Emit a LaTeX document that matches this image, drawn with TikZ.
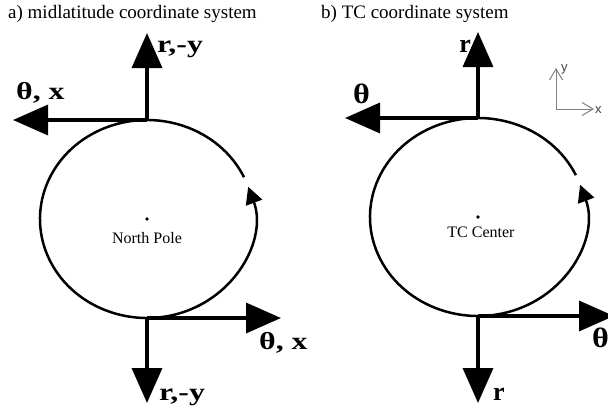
\documentclass[tikz,border=0pt]{standalone}
\usepackage{fontspec}
\setmainfont{Liberation Serif}
\setsansfont{Liberation Sans}
\newfontfamily\lblfont[FakeStretch=1.3]{Liberation Serif}
\newfontfamily\thfont[FakeStretch=1.15]{Liberation Serif}
\usetikzlibrary{arrows.meta,calc}
\tikzset{
  bigarrow/.style={line width=3.5pt,-{Triangle[length=35pt,width=30pt]}},
  orbit/.style={line width=2.5pt,-{Triangle[length=17pt,width=17pt]}},
  biglabel/.style={inner sep=0pt,font=\lblfont\fontsize{24.5}{24.5}\selectfont\bfseries},
  rlabel/.style={inner sep=0pt,font=\fontsize{26}{26}\selectfont\bfseries},
  thlabel/.style={inner sep=0pt,font=\thfont\fontsize{28}{28}\selectfont\bfseries},
  title/.style={inner sep=0pt,font=\fontsize{19}{19}\selectfont},
  small/.style={inner sep=0pt,font=\fontsize{16}{16}\selectfont},
  axis/.style={draw=black!50,line width=1pt,-{Straight Barb[length=11pt,width=13pt]}},
  axlabel/.style={inner sep=0pt,text=black!75,font=\sffamily\fontsize{13}{13}\selectfont},
}
\begin{document}
\begin{tikzpicture}[x=1pt,y=-1pt]
\useasboundingbox (0,0) rectangle (608,413);
% ---------- panel a ----------
\node[title,anchor=base west] (ta) at (8,18) {a) midlatitude coordinate system};
\coordinate (ca) at (147,219);
\coordinate (atop) at (147,120);
\coordinate (abot) at (147,318);
\coordinate (aup) at (147,33);
\coordinate (aleft) at (13,120);
\coordinate (adown) at (147,403);
\coordinate (aright) at (281,318);
\draw[orbit] ($(ca)+(-25:107 and 99)$) arc[start angle=-25, end angle=-379, x radius=107, y radius=99];
\draw[bigarrow] (atop) -- (aup);
\draw[bigarrow] (atop) -- (aleft);
\draw[bigarrow] (abot) -- (adown);
\draw[bigarrow] (abot) -- (aright);
\fill (ca) circle (1.8);
\node[small] (np) at (147,238) {North Pole};
\node[biglabel,anchor=base west] (la1) at (16,99) {θ, x};
\node[biglabel,anchor=base west] (la2) at (157,52) {r,-y};
\node[biglabel,anchor=base west] (la3) at (259,349) {θ, x};
\node[biglabel,anchor=base west] (la4) at (159,400) {r,-y};
% ---------- panel b ----------
\node[title,anchor=base west] (tb) at (321,18) {b) TC coordinate system};
\coordinate (cb) at (478,217);
\coordinate (btop) at (478,118);
\coordinate (bbot) at (478,316);
\coordinate (bup) at (478,32);
\coordinate (bleft) at (345,118);
\coordinate (bdown) at (478,403);
\coordinate (bright) at (614,316);
\draw[orbit] ($(cb)+(-25:108 and 99)$) arc[start angle=-25, end angle=-379, x radius=108, y radius=99];
\draw[bigarrow] (btop) -- (bup);
\draw[bigarrow] (btop) -- (bleft);
\draw[bigarrow] (bbot) -- (bdown);
\draw[bigarrow] (bbot) -- (bright);
\fill (cb) circle (1.8);
\node[small] (tc) at (481,232) {TC Center};
\node[thlabel,anchor=base west] (lb1) at (353,103) {θ};
\node[rlabel,anchor=base east] (lb2) at (471,52) {r};
\node[thlabel,anchor=base west] (lb3) at (592,347) {θ};
\node[rlabel,anchor=base west] (lb4) at (493,400) {r};
% small axes
\coordinate (o) at (556,109);
\coordinate (oy) at (556,68);
\coordinate (ox) at (594,109);
\draw[axis] (o) -- (oy);
\draw[axis] (o) -- (ox);
\node[axlabel,anchor=base west] (ly) at (561,71) {y};
\node[axlabel,anchor=base west] (lx) at (595,113) {x};
\end{tikzpicture}
\end{document}
